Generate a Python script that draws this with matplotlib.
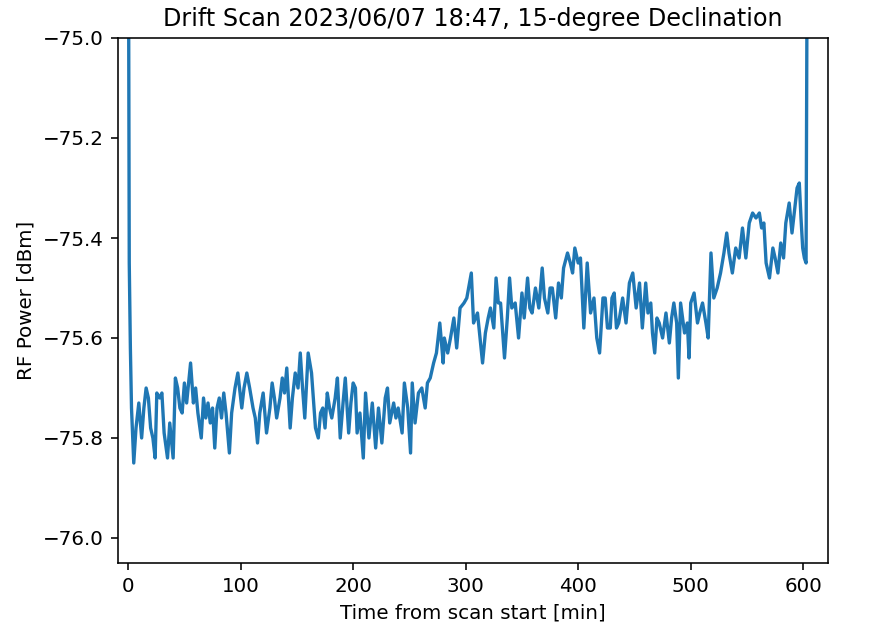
import numpy as np
import matplotlib
matplotlib.use("Agg")
import matplotlib.pyplot as plt

time_min = [
    0, 1, 2, 3, 5, 7, 9.5, 12, 14, 16, 18, 20, 22, 24, 25.5, 28, 30, 32, 35, 37,
    40, 42, 44, 46, 48, 50, 52, 55.5, 58, 60, 62, 65, 67, 69, 71, 73, 75, 77, 79, 81,
    83, 85, 87, 90, 92, 95, 97.5, 101, 103, 105.5, 108, 111, 113, 115, 117, 120, 123, 126, 128, 130,
    132, 135, 137, 139, 141, 144, 146, 148.5, 151, 153, 155, 157, 160, 163, 166.5, 169, 171, 173, 175, 177,
    179, 181, 184, 186, 188.5, 191, 193, 196, 198, 200, 202, 203.5, 206, 209, 211, 214, 217, 220, 222.5, 225.5,
    228.5, 230.5, 232.5, 236, 238, 240, 243.5, 245.5, 248.5, 251, 252.5, 255, 258, 261, 264, 266, 268.5, 271.5, 274, 277,
    280, 281, 284, 286.5, 289.5, 292, 295, 298.5, 301, 305, 307, 310.5, 315, 317.5, 320, 322, 325, 327, 329, 331,
    334.5, 337, 339, 341, 344, 347, 350, 352, 355, 357, 359, 362, 365, 368, 370, 373, 375, 377, 380, 382.5,
    385, 387, 390.5, 393, 395, 397, 400, 402, 405, 408, 411, 414, 416.5, 419, 422, 424, 426, 428.5, 430, 432,
    434, 436, 439.5, 442.5, 445.5, 448.5, 451.5, 454.5, 457, 460, 462, 464.5, 466, 468, 470, 472, 475, 478, 481, 483,
    485, 487.5, 489, 491, 494.5, 497, 498.5, 500, 503, 506, 508, 510.5, 513.5, 515.5, 518, 520.5, 523.5, 526.5, 529.5, 532,
    534, 537, 540, 543, 546, 549, 552, 555, 558, 561, 563, 565, 567, 570, 573, 575, 577.5, 580, 582.5, 584.5,
    587.5, 590, 592, 594.5, 596.5, 598, 599.5, 601, 602.5, 604,
]
power_dbm = [
    -74.5, -75.45, -75.62, -75.74, -75.85, -75.78, -75.73, -75.80, -75.74, -75.70, -75.72, -75.78, -75.80, -75.84, -75.71, -75.72, -75.71, -75.79, -75.84, -75.77,
    -75.84, -75.68, -75.70, -75.74, -75.75, -75.69, -75.73, -75.65, -75.73, -75.70, -75.75, -75.80, -75.72, -75.76, -75.73, -75.77, -75.74, -75.82, -75.74, -75.72,
    -75.76, -75.71, -75.75, -75.83, -75.75, -75.70, -75.67, -75.74, -75.70, -75.67, -75.70, -75.74, -75.76, -75.81, -75.75, -75.71, -75.79, -75.74, -75.69, -75.72,
    -75.76, -75.72, -75.68, -75.71, -75.66, -75.78, -75.72, -75.67, -75.70, -75.63, -75.70, -75.76, -75.63, -75.67, -75.78, -75.80, -75.75, -75.74, -75.78, -75.71,
    -75.74, -75.76, -75.72, -75.68, -75.80, -75.73, -75.68, -75.79, -75.73, -75.69, -75.70, -75.79, -75.75, -75.84, -75.71, -75.80, -75.73, -75.82, -75.74, -75.81,
    -75.72, -75.70, -75.77, -75.73, -75.76, -75.74, -75.79, -75.69, -75.74, -75.83, -75.69, -75.77, -75.71, -75.70, -75.74, -75.69, -75.68, -75.65, -75.63, -75.57,
    -75.65, -75.60, -75.63, -75.60, -75.56, -75.62, -75.54, -75.53, -75.52, -75.47, -75.57, -75.55, -75.65, -75.59, -75.56, -75.54, -75.58, -75.48, -75.53, -75.53,
    -75.64, -75.56, -75.48, -75.54, -75.53, -75.60, -75.51, -75.56, -75.48, -75.54, -75.55, -75.50, -75.54, -75.46, -75.52, -75.55, -75.50, -75.50, -75.56, -75.49,
    -75.52, -75.46, -75.43, -75.45, -75.47, -75.42, -75.45, -75.44, -75.58, -75.45, -75.55, -75.52, -75.60, -75.63, -75.52, -75.52, -75.58, -75.58, -75.52, -75.51,
    -75.58, -75.57, -75.52, -75.57, -75.49, -75.47, -75.54, -75.49, -75.58, -75.49, -75.55, -75.53, -75.59, -75.63, -75.56, -75.57, -75.60, -75.55, -75.61, -75.56,
    -75.53, -75.57, -75.68, -75.53, -75.59, -75.57, -75.64, -75.53, -75.51, -75.57, -75.55, -75.53, -75.57, -75.60, -75.43, -75.52, -75.50, -75.47, -75.43, -75.39,
    -75.43, -75.47, -75.42, -75.44, -75.38, -75.44, -75.37, -75.35, -75.36, -75.35, -75.38, -75.37, -75.45, -75.48, -75.42, -75.44, -75.47, -75.41, -75.44, -75.37,
    -75.33, -75.39, -75.35, -75.30, -75.29, -75.36, -75.42, -75.44, -75.45, -74.5,
]

title = "Drift Scan 2023/06/07 18:47, 15-degree Declination"

s = 1.43  # scale of the screenshot relative to matplotlib defaults

plt.rcParams["axes.linewidth"] = 0.8 * s
for ax_name in ("xtick", "ytick"):
    plt.rcParams[f"{ax_name}.major.size"] = 3.5 * s
    plt.rcParams[f"{ax_name}.major.width"] = 0.8 * s
    plt.rcParams[f"{ax_name}.major.pad"] = 3.5 * s
    plt.rcParams[f"{ax_name}.labelsize"] = 10 * s

fig = plt.figure(figsize=(8.75, 6.3), dpi=100)
ax = fig.add_axes([118 / 875, 1 - 563 / 630, 710 / 875, 525 / 630])

ax.plot(np.array(time_min), np.array(power_dbm), color="#1f77b4", linewidth=2.4)

ax.set_xlim(-9, 622)
ax.set_ylim(-76.05, -75.0)
ax.set_xticks([0, 100, 200, 300, 400, 500, 600])
ax.set_yticks([-76.0, -75.8, -75.6, -75.4, -75.2, -75.0])

ax.set_xlabel("Time from scan start [min]", fontsize=10 * s, labelpad=4 * s)
ax.set_ylabel("RF Power [dBm]", fontsize=10 * s, labelpad=4 * s)
ax.set_title(title, fontsize=12 * s, pad=6 * s)

fig.savefig("out.png", dpi=100)
